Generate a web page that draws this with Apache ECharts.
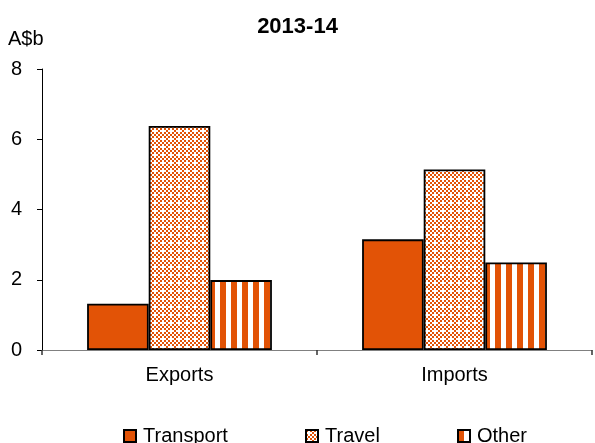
<!DOCTYPE html>
<html><head><meta charset="utf-8">
<script src="https://cdn.jsdelivr.net/npm/echarts@6/dist/echarts.min.js"></script>
<style>html,body{margin:0;padding:0;background:#fff}#c{width:595px;height:443px}</style>
</head><body><div id="c"></div>
<script>
const title = '2013-14';
const unit = 'A$b';
const categories = ['Exports', 'Imports'];
const transport = [1.32, 3.15];
const travel = [6.38, 5.14];
const other = [1.99, 2.49];
const seriesNames = ['Transport', 'Travel', 'Other'];

const ORANGE = '#E25306';
function checkerPattern() {
  const c = document.createElement('canvas');
  c.width = 8; c.height = 8;
  const g = c.getContext('2d');
  g.fillStyle = '#fff'; g.fillRect(0, 0, 8, 8);
  g.fillStyle = ORANGE;
  for (let i = 0; i < 4; i++) for (let j = 0; j < 4; j++) {
    if ((i + j) % 2 === 0) g.fillRect(i * 2, j * 2, 2, 2);
  }
  g.fillStyle = '#fff';
  g.fillRect(2, 2, 2, 2);
  return { image: c, repeat: 'repeat' };
}
function stripePattern() {
  const c = document.createElement('canvas');
  c.width = 11; c.height = 4;
  const g = c.getContext('2d');
  g.fillStyle = '#fff'; g.fillRect(0, 0, 11, 4);
  g.fillStyle = ORANGE; g.fillRect(0, 0, 6, 4);
  return { image: c, repeat: 'repeat' };
}
const fills = [ORANGE, checkerPattern(), stripePattern()];
const values = [transport, travel, other];

const chart = echarts.init(document.getElementById('c'), null, { renderer: 'canvas' });
const font = 'Liberation Sans, Arial, sans-serif';
const legendLefts = [118, 300, 452];
chart.setOption({
  animation: false,
  textStyle: { fontFamily: font },
  title: {
    text: title, left: 'center', top: 11,
    textStyle: { fontSize: 22, fontWeight: 'bold', color: '#000', fontFamily: font }
  },
  graphic: [{
    type: 'text', left: 8, top: 29,
    style: { text: unit, fontSize: 20, fill: '#000', fontFamily: font }
  }],
  legend: seriesNames.map((n, i) => ({
    data: [n], left: legendLefts[i], top: 421,
    itemWidth: 12, itemHeight: 12, itemGap: 0,
    textStyle: { fontSize: 20, color: '#000', fontFamily: font, padding: [0, 0, 0, 2] },
    icon: 'rect', selectedMode: false
  })),
  grid: { left: 42, right: 3, top: 69, bottom: 93, containLabel: false },
  xAxis: {
    type: 'category', data: categories,
    axisLine: { lineStyle: { color: '#808080', width: 1 } },
    axisTick: { show: true, length: 5, lineStyle: { color: '#333', width: 1.5 } },
    axisLabel: { fontSize: 20, color: '#000', margin: 15, fontFamily: font },
    splitLine: { show: false }
  },
  yAxis: {
    type: 'value', min: 0, max: 8, interval: 2,
    axisLine: { show: true, lineStyle: { color: '#000', width: 1 } },
    axisTick: { show: true, length: 5, lineStyle: { color: '#000' } },
    axisLabel: { fontSize: 20, color: '#000', margin: 20, fontFamily: font },
    splitLine: { show: false }
  },
  series: seriesNames.map((n, i) => ({
    name: n, type: 'bar', data: values[i],
    barWidth: '22.4%', barGap: '0%',
    itemStyle: { color: fills[i], borderColor: '#000', borderWidth: 1.8 }
  }))
});
</script></body></html>
